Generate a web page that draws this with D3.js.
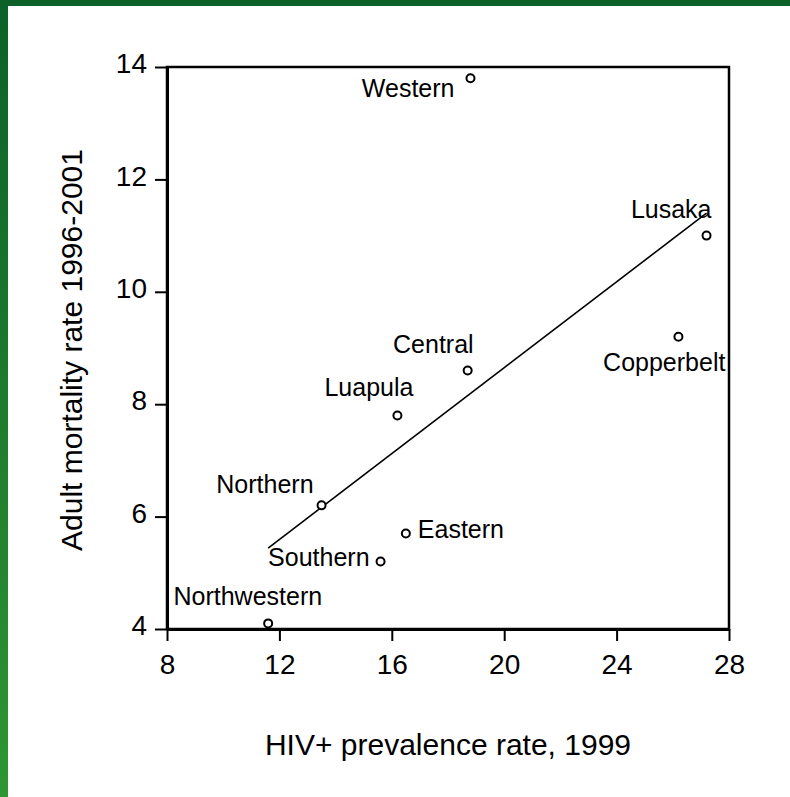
<html>
<head>
<meta charset="utf-8">
<title>HIV prevalence vs adult mortality</title>
<script src="https://cdnjs.cloudflare.com/ajax/libs/d3/7.8.5/d3.min.js"></script>
<style>
body {
  margin: 0;
  background: #fff;
  font-family: "Liberation Sans", Arial, sans-serif;
}
svg text { fill: #000; }
.tick line, .domain, .frame { stroke: #000; }
</style>
</head>
<body>
<div id="chart"></div>
<script>
// provinces, HIV+ prevalence 1999 (x) and adult mortality 1996-2001 (y)
var provinces = ["Western", "Lusaka", "Copperbelt", "Central", "Luapula", "Northern", "Eastern", "Southern", "Northwestern"];
var hivRate = [18.8, 27.2, 26.2, 18.7, 16.2, 13.5, 16.5, 15.6, 11.6];
var mortality = [13.8, 11.0, 9.2, 8.6, 7.8, 6.2, 5.7, 5.2, 4.1];

// fitted line, read at its two ends
var fitX = [11.6, 27.2];
var fitY = [5.44, 11.4];

var xTicks = [8, 12, 16, 20, 24, 28];
var yTicks = [4, 6, 8, 10, 12, 14];

// where each name sits against its point
var labelPlace = {
  Western: {anchor: "end", dx: -16, dy: 19},
  Lusaka: {anchor: "end", dx: 5, dy: -18},
  Copperbelt: {anchor: "end", dx: 47, dy: 34},
  Central: {anchor: "end", dx: 6, dy: -17},
  Luapula: {anchor: "end", dx: 16, dy: -19},
  Northern: {anchor: "end", dx: -8, dy: -12},
  Eastern: {anchor: "start", dx: 12, dy: 5},
  Southern: {anchor: "end", dx: -11, dy: 4},
  Northwestern: {anchor: "end", dx: 54, dy: -18}
};

var W = 790, H = 797;
var margin = {top: 67, right: 61, bottom: 168, left: 167};

var svg = d3.select("#chart").append("svg")
  .attr("width", W)
  .attr("height", H);

// green page border, top and left
var grad = svg.append("defs").append("linearGradient")
  .attr("id", "side").attr("x1", 0).attr("y1", 0).attr("x2", 0).attr("y2", 1);
grad.append("stop").attr("offset", "0%").attr("stop-color", "#0b6128");
grad.append("stop").attr("offset", "100%").attr("stop-color", "#2e9632");
svg.append("rect").attr("x", 0).attr("y", 0).attr("width", 8).attr("height", H).attr("fill", "url(#side)");
svg.append("rect").attr("x", 0).attr("y", 0).attr("width", W).attr("height", 6).attr("fill", "#0b6128");

var x = d3.scaleLinear().domain([8, 28]).range([margin.left, W - margin.right]);
var y = d3.scaleLinear().domain([4, 14]).range([H - margin.bottom, margin.top]);

var g = svg.append("g");

// frame
g.append("rect")
  .attr("class", "frame")
  .attr("x", x(8)).attr("y", y(14))
  .attr("width", x(28) - x(8)).attr("height", y(4) - y(14))
  .attr("fill", "none")
  .attr("stroke-width", 2.5);

var xAxis = g.append("g")
  .attr("transform", "translate(0," + y(4) + ")")
  .call(d3.axisBottom(x).tickValues(xTicks).tickSize(12).tickSizeOuter(0));
xAxis.selectAll("text")
  .attr("y", 45).attr("dy", null)
  .style("font-size", "28px")
  .style("font-family", "Liberation Sans, Arial, sans-serif");

var yAxis = g.append("g")
  .attr("transform", "translate(" + x(8) + ",0)")
  .call(d3.axisLeft(y).tickValues(yTicks).tickSize(12).tickSizeOuter(0));
yAxis.selectAll("text")
  .attr("x", -20).attr("dy", "0.2em")
  .style("font-size", "28px")
  .style("font-family", "Liberation Sans, Arial, sans-serif");

g.selectAll(".domain").attr("stroke-width", 3);
g.selectAll(".tick line").attr("stroke-width", 2);

// regression line
var line = d3.line()
  .x(function(d) { return x(d[0]); })
  .y(function(d) { return y(d[1]); });
g.append("path")
  .datum(d3.zip(fitX, fitY))
  .attr("d", line)
  .attr("fill", "none")
  .attr("stroke", "#000")
  .attr("stroke-width", 1.6);

var pts = d3.zip(provinces, hivRate, mortality);

g.selectAll("circle.pt")
  .data(pts)
  .enter().append("circle")
    .attr("class", "pt")
    .attr("cx", function(d) { return x(d[1]); })
    .attr("cy", function(d) { return y(d[2]); })
    .attr("r", 4)
    .attr("fill", "#fff")
    .attr("stroke", "#000")
    .attr("stroke-width", 2);

g.selectAll("text.lbl")
  .data(pts)
  .enter().append("text")
    .attr("class", "lbl")
    .attr("x", function(d) { return x(d[1]) + labelPlace[d[0]].dx; })
    .attr("y", function(d) { return y(d[2]) + labelPlace[d[0]].dy; })
    .attr("text-anchor", function(d) { return labelPlace[d[0]].anchor; })
    .style("font-size", "25px")
    .text(function(d) { return d[0]; });

// axis titles
svg.append("text")
  .attr("x", (x(8) + x(28)) / 2)
  .attr("y", 755)
  .attr("text-anchor", "middle")
  .style("font-size", "30px")
  .text("HIV+ prevalence rate, 1999");

svg.append("text")
  .attr("transform", "translate(82," + 350 + ") rotate(-90)")
  .attr("text-anchor", "middle")
  .style("font-size", "30px")
  .text("Adult mortality rate 1996-2001");
</script>
</body>
</html>
